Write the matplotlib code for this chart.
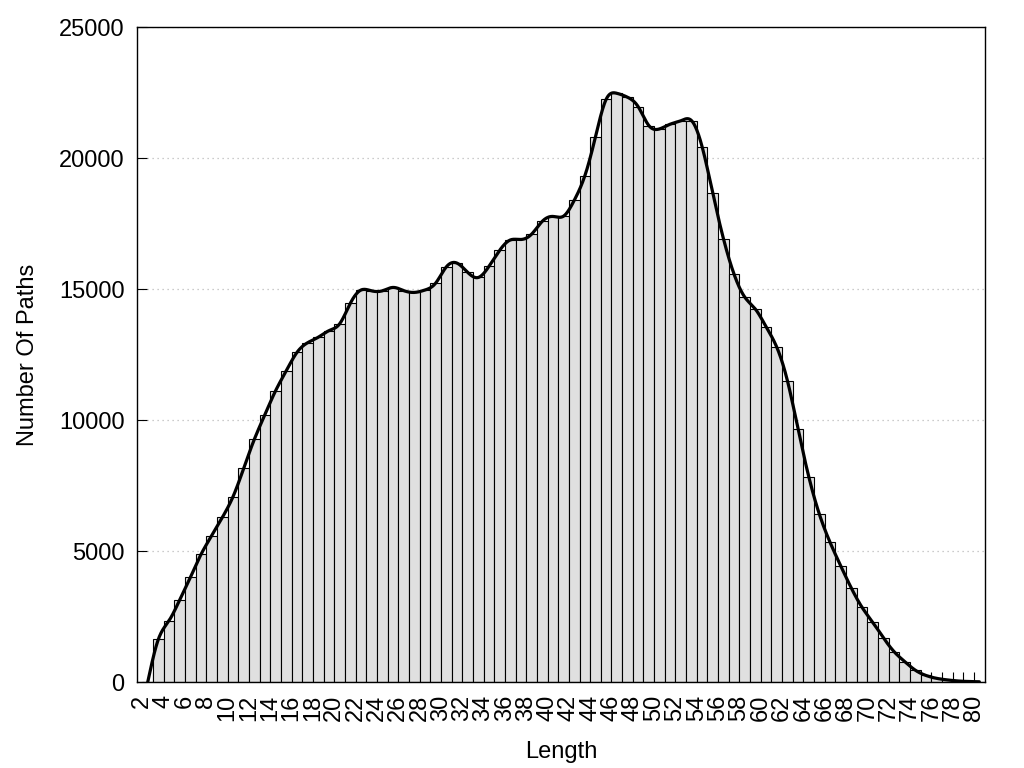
import numpy as np
import matplotlib
matplotlib.use("Agg")
import matplotlib.pyplot as plt

plt.rcParams['font.family'] = ['Liberation Sans', 'DejaVu Sans']

# Path length categories and counts
lengths = np.arange(2, 81)
counts = [0, 1640, 2350, 3140, 4000, 4880, 5590, 6290, 7080, 8160,
          9270, 10220, 11130, 11890, 12590, 12960, 13170, 13420, 13680, 14460,
          14970, 14940, 14940, 15070, 14950, 14880, 14970, 15230, 15850, 16000,
          15650, 15450, 15870, 16480, 16880, 16900, 17100, 17590, 17780, 17790,
          18390, 19330, 20820, 22250, 22480, 22330, 21970, 21250, 21120, 21300,
          21430, 21440, 20440, 18660, 16930, 15570, 14700, 14240, 13570, 12790,
          11510, 9660, 7850, 6410, 5340, 4440, 3590, 2860, 2290, 1700,
          1170, 790, 460, 260, 150, 90, 50, 30, 20]
xlabel = "Length"
ylabel = "Number Of Paths"
yticks = [0, 5000, 10000, 15000, 20000, 25000]


def natural_cubic_spline(x, y, xs):
    x = np.asarray(x, float)
    y = np.asarray(y, float)
    n = len(x)
    h = np.diff(x)
    A = np.zeros((n, n))
    b = np.zeros(n)
    A[0, 0] = 1.0
    A[-1, -1] = 1.0
    for i in range(1, n - 1):
        A[i, i - 1] = h[i - 1]
        A[i, i] = 2 * (h[i - 1] + h[i])
        A[i, i + 1] = h[i]
        b[i] = 3 * ((y[i + 1] - y[i]) / h[i] - (y[i] - y[i - 1]) / h[i - 1])
    c = np.linalg.solve(A, b)
    bb = (y[1:] - y[:-1]) / h - h * (2 * c[:-1] + c[1:]) / 3
    d = (c[1:] - c[:-1]) / (3 * h)
    idx = np.clip(np.searchsorted(x, xs) - 1, 0, n - 2)
    dx = xs - x[idx]
    return y[idx] + bb[idx] * dx + c[idx] * dx ** 2 + d[idx] * dx ** 3


fig = plt.figure(figsize=(10.24, 7.68), dpi=100)
ax = fig.add_axes([0.1338, 0.1116, 0.9616 - 0.1338, 0.9645 - 0.1116])

ax.bar(lengths, counts, width=1.0, align='edge', color='#e0e0e0',
       edgecolor='black', linewidth=0.8)

centers = lengths + 0.5
xs = np.linspace(centers[0], centers[-1], 1500)
ys = natural_cubic_spline(centers, counts, xs)
ax.plot(xs, ys, color='black', linewidth=2.3, solid_capstyle='round', zorder=3)

ax.set_xlim(1.5, 81)
ax.set_ylim(0, 25000)
ax.set_axisbelow(True)
ax.yaxis.grid(True, linestyle=(0, (1, 3)), color='#bbbbbb', linewidth=0.9)

ax.set_xticks(lengths[::2])
ax.set_xticklabels([str(v) for v in lengths[::2]], rotation=90)
ax.set_xticks(lengths[1::2], minor=True)
ax.set_yticks(yticks)
ax.set_yticklabels([str(v) for v in yticks])

ax.tick_params(axis='x', which='both', direction='in', length=7.5, width=0.8,
               labelsize=17, pad=9)
ax.tick_params(axis='y', which='major', direction='in', length=7.5, width=0.8,
               labelsize=17, pad=9)
ax.xaxis.get_major_ticks()[0].tick1line.set_visible(False)

for s in ax.spines.values():
    s.set_linewidth(1.0)

ax.set_xlabel(xlabel, fontsize=17, labelpad=14)
ax.set_ylabel(ylabel, fontsize=17, labelpad=14)

fig.savefig("out.png", dpi=100)
